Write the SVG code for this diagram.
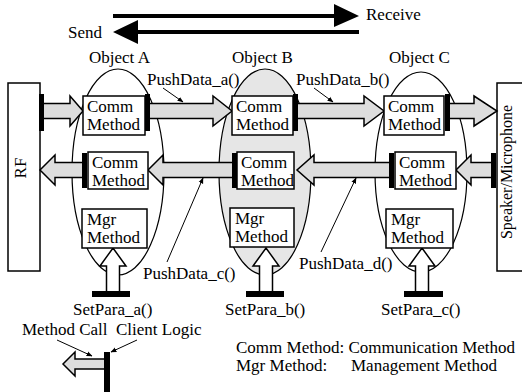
<svg xmlns="http://www.w3.org/2000/svg" width="522" height="392" viewBox="0 0 522 392">
<style>
text{font-family:"Liberation Serif","Times New Roman",serif;font-size:17px;fill:#000}
.box{fill:#fff;stroke:#000;stroke-width:1.5}
.obj{fill:none;stroke:#000;stroke-width:1.2}
.objg{fill:#e6e6e6;stroke:#000;stroke-width:1.2}
.blk{fill:#ddd;stroke:#000;stroke-width:1.5;stroke-linejoin:miter}
.up{fill:#fff;stroke:#000;stroke-width:1.5}
.bar{fill:#000}
.ptr{stroke:#000;stroke-width:1;fill:none;marker-end:url(#ah)}
</style>
<defs>
<marker id="ah" viewBox="0 0 10 10" refX="9" refY="5" markerWidth="6" markerHeight="6" orient="auto" markerUnits="userSpaceOnUse">
<path d="M0,1 L10,5 L0,9 Z" fill="#000"/>
</marker>
</defs>

<g id="direction">
<path d="M113,14 H334 V4 L359,16 L334,27 V18 H113 Z" fill="#000"/>
<path d="M359,30 H138 V20 L113,32 L138,44 V34 H359 Z" fill="#000"/>
<text x="366" y="20">Receive</text>
<text x="68" y="38">Send</text>
</g>

<g id="objectA"><ellipse class="obj" cx="118" cy="172" rx="46" ry="103"/><text x="89" y="63">Object A</text></g>
<g id="objectB"><ellipse class="objg" cx="265" cy="172" rx="46" ry="103"/><text x="232" y="63">Object B</text></g>
<g id="objectC"><ellipse class="obj" cx="421" cy="172" rx="46" ry="100"/><text x="389" y="63">Object C</text></g>

<g id="RF"><rect class="box" x="8" y="83" width="32" height="188"/><text transform="translate(26,168) rotate(-90)" text-anchor="middle">RF</text></g>
<g id="speaker"><rect class="box" x="497" y="83" width="30" height="188"/><text transform="translate(512,172) rotate(-90)" text-anchor="middle" style="font-size:16px">Speaker/Microphone</text></g>

<g id="connectors">
<path class="blk" d="M44,103.5 H70 V96 L83,111 L70,126 V118.5 H44"/>
<path class="blk" d="M150,103.5 H213 V96 L232,111 L213,126 V118.5 H150"/>
<path class="blk" d="M298,103.5 H364 V96 L384,111 L364,126 V118.5 H298"/>
<path class="blk" d="M450,103.5 H474 V96 L497,111 L474,126 V118.5 H450"/>
<path class="blk" d="M82,162.5 H55 V155 L40,170 L55,185 V177.5 H82"/>
<path class="blk" d="M232,162.5 H163 V155 L148,170 L163,185 V177.5 H232"/>
<path class="blk" d="M389,162.5 H314 V155 L297,170 L314,185 V177.5 H389"/>
<path class="blk" d="M491,162.5 H471 V155 L456,170 L471,185 V177.5 H491"/>
<path class="up" d="M106.5,291 V266 H100 L113,248 L126,266 H119.5 V291"/>
<path class="up" d="M259.5,291 V266 H253 L266,248 L279,266 H272.5 V291"/>
<path class="up" d="M415.5,291 V266 H409 L422,248 L435,266 H428.5 V291"/>
<rect class="bar" x="39" y="94" width="5" height="37"/>
<rect class="bar" x="145" y="94" width="5" height="37"/>
<rect class="bar" x="293" y="94" width="5" height="37"/>
<rect class="bar" x="445" y="94" width="5" height="37"/>
<rect class="bar" x="82" y="153" width="5" height="35"/>
<rect class="bar" x="232" y="153" width="5" height="35"/>
<rect class="bar" x="389" y="153" width="5" height="35"/>
<rect class="bar" x="491" y="153" width="5" height="35"/>
<rect class="bar" x="92" y="291" width="38" height="6"/>
<rect class="bar" x="246" y="291" width="38" height="6"/>
<rect class="bar" x="404" y="291" width="39" height="6"/>
<line class="ptr" x1="163" y1="88" x2="183" y2="102"/>
<line class="ptr" x1="314" y1="88" x2="333" y2="102"/>
<line class="ptr" x1="167" y1="262" x2="203" y2="178"/>
<line class="ptr" x1="321" y1="252" x2="356" y2="178"/>
<text x="147" y="85">PushData_a()</text>
<text x="296" y="85">PushData_b()</text>
<text x="143" y="279">PushData_c()</text>
<text x="299" y="269">PushData_d()</text>
<text x="73" y="315">SetPara_a()</text>
<text x="225" y="315">SetPara_b()</text>
<text x="381" y="315">SetPara_c()</text>
</g>

<g id="commA1"><rect class="box" x="83" y="96" width="62" height="39"/><text x="87" y="112">Comm</text><text x="87" y="130">Method</text></g>
<g id="commB1"><rect class="box" x="232" y="96" width="61" height="39"/><text x="236" y="112">Comm</text><text x="236" y="130">Method</text></g>
<g id="commC1"><rect class="box" x="384" y="96" width="60" height="39"/><text x="388" y="112">Comm</text><text x="388" y="130">Method</text></g>
<g id="commA2"><rect class="box" x="88" y="152" width="60" height="37"/><text x="92" y="168">Comm</text><text x="92" y="186">Method</text></g>
<g id="commB2"><rect class="box" x="237" y="152" width="57" height="37"/><text x="241" y="168">Comm</text><text x="241" y="186">Method</text></g>
<g id="commC2"><rect class="box" x="395" y="152" width="61" height="37"/><text x="399" y="168">Comm</text><text x="399" y="186">Method</text></g>
<g id="mgrA"><rect class="box" x="82" y="209" width="65" height="39"/><text x="87" y="225">Mgr</text><text x="87" y="243">Method</text></g>
<g id="mgrB"><rect class="box" x="230" y="208" width="64" height="39"/><text x="235" y="224">Mgr</text><text x="235" y="242">Method</text></g>
<g id="mgrC"><rect class="box" x="386" y="209" width="67" height="39"/><text x="391" y="225">Mgr</text><text x="391" y="243">Method</text></g>

<g id="legend">
<text x="22" y="335" xml:space="preserve">Method Call  Client Logic</text>
<path class="blk" d="M104,359 H75 V352 L63,364 L75,376 V369 H104"/>
<rect class="bar" x="104" y="352" width="6" height="40"/>
<line class="ptr" x1="57" y1="340" x2="92" y2="356"/>
<line class="ptr" x1="137" y1="340" x2="111" y2="352"/>
<text x="236" y="353">Comm Method: Communication Method</text>
<text x="236" y="371">Mgr Method:</text>
<text x="351" y="371">Management Method</text>
</g>
</svg>
